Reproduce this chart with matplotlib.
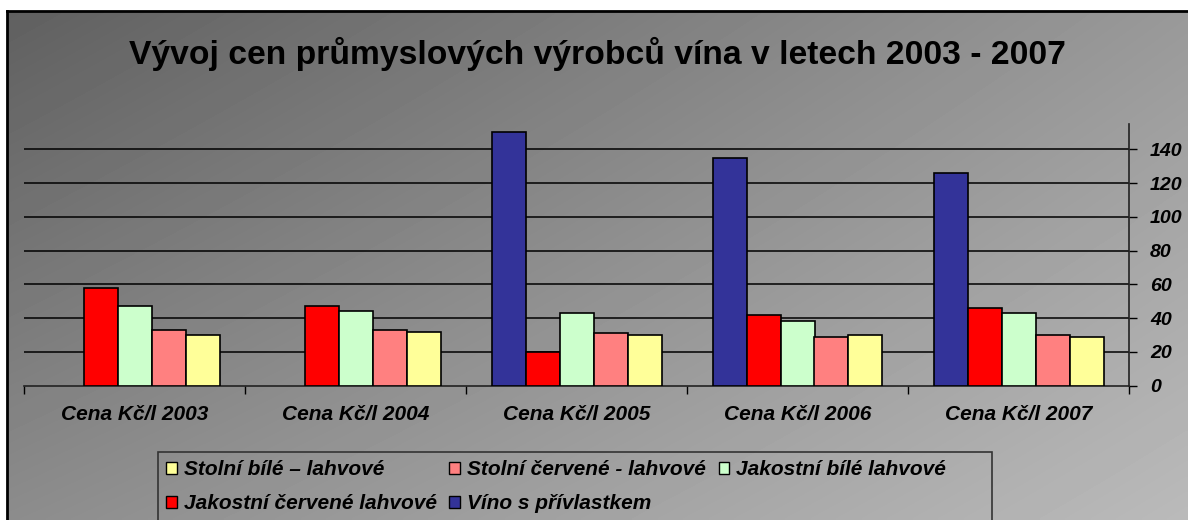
import numpy as np
import matplotlib
matplotlib.use("Agg")
import matplotlib.pyplot as plt
from matplotlib.patches import Rectangle, Patch
from matplotlib.lines import Line2D

plt.rcParams['font.family'] = ['Liberation Sans', 'DejaVu Sans']

W, H = 1188, 520

categories = ["Cena Kč/l 2003", "Cena Kč/l 2004", "Cena Kč/l 2005",
              "Cena Kč/l 2006", "Cena Kč/l 2007"]

# series in bar order (left to right inside a group)
series_names = ["Víno s přívlastkem", "Jakostní červené lahvové",
                "Jakostní bílé lahvové", "Stolní červené - lahvové",
                "Stolní bílé – lahvové"]
vino_privlastek = [np.nan, np.nan, 150, 135, 126]
jakostni_cervene = [58, 47, 20, 42, 46]
jakostni_bile = [47, 44, 43, 38.5, 43]
stolni_cervene = [33, 33, 31, 29, 30]
stolni_bile = [30, 32, 30, 30, 29]
series_values = [vino_privlastek, jakostni_cervene, jakostni_bile,
                 stolni_cervene, stolni_bile]
series_colors = ["#333399", "#FF0000", "#CCFFCC", "#FF8080", "#FFFF99"]

y_ticks = [0, 20, 40, 60, 80, 100, 120, 140]


def px(x0, y0, x1, y1):
    # pixel box (top-left origin) -> figure fraction rect
    return [x0 / W, 1 - y1 / H, (x1 - x0) / W, (y1 - y0) / H]


fig = plt.figure(figsize=(W / 100, H / 100), dpi=100)
fig.patch.set_facecolor("white")

# Gradient background of the chart area
bg = fig.add_axes(px(7, 11, W, H), zorder=-5)
gx, gy = np.meshgrid(np.linspace(0, 1, 300), np.linspace(0, 1, 150))
tl, tr, bl, br = 96, 153, 140, 186
grad = (tl * (1 - gx) * (1 - gy) + tr * gx * (1 - gy)
        + bl * (1 - gx) * gy + br * gx * gy) / 255.0
bg.imshow(grad, cmap="gray", vmin=0, vmax=1, aspect="auto",
          extent=[0, 1, 1, 0], interpolation="bilinear")
bg.set_axis_off()

# outer border (top and left)
fig.add_artist(Line2D([7 / W, 7 / W], [0, 1 - 11 / H], color="black",
                      lw=2, transform=fig.transFigure))
fig.add_artist(Line2D([7 / W, 1], [1 - 11 / H, 1 - 11 / H], color="black",
                      lw=2, transform=fig.transFigure))

# Plot area
ax = fig.add_axes(px(24, 124, 1129, 385.7))
ax.patch.set_alpha(0)

n_cat = len(categories)
n_ser = len(series_values)
bar_w = 1.0 / 6.5
x = np.arange(n_cat)
for i, (vals, col) in enumerate(zip(series_values, series_colors)):
    offs = (i - (n_ser - 1) / 2) * bar_w
    ax.bar(x + offs, vals, width=bar_w, color=col, edgecolor="black",
           linewidth=1.2, zorder=3)

ax.set_xlim(-0.5, n_cat - 0.5)
ax.set_ylim(0, 155)

# gridlines
for v in y_ticks[1:]:
    ax.axhline(v, color="black", lw=1.1, zorder=1)

ax.yaxis.tick_right()
ax.set_yticks(y_ticks)
ax.set_yticklabels([str(v) for v in y_ticks], fontsize=14,
                   fontweight="bold", fontstyle="italic")
ax.tick_params(axis="y", direction="out", length=6, width=1, pad=9,
               colors="black")

ax.set_xticks(np.arange(-0.5, n_cat, 1.0))
ax.set_xticklabels([])
ax.set_xticks(x, minor=True)
ax.set_xticklabels(categories, minor=True, fontsize=15,
                   fontweight="bold", fontstyle="italic")
ax.tick_params(axis="x", which="major", direction="out", length=6, width=1)
ax.tick_params(axis="x", which="minor", length=0, pad=14)

for s in ["left", "top"]:
    ax.spines[s].set_visible(False)
ax.spines["right"].set_color("#222222")
ax.spines["bottom"].set_color("#222222")
ax.spines["right"].set_linewidth(1.2)
ax.spines["bottom"].set_linewidth(1.2)

# Title
fig.text(597 / W, 1 - 54 / H,
         "Vývoj cen průmyslových výrobců vína v letech 2003 - 2007",
         ha="center", va="center", fontsize=24.2, fontweight="bold")

# Legend (row order: Stolní bílé, Stolní červené, Jakostní bílé / Jakostní červené, Víno)
order = [4, 1, 3, 0, 2]
handles = [Patch(facecolor=series_colors[k], edgecolor="black", linewidth=1)
           for k in order]
labels = [series_names[k] for k in order]
fig.add_artist(Rectangle((158 / W, 1 - 540 / H), (992 - 158) / W, 88 / H,
                         transform=fig.transFigure, fill=False,
                         edgecolor="#333333", lw=1.2))
leg = fig.legend(handles, labels, ncol=3, loc="upper left",
                 bbox_to_anchor=(160 / W, 1 - 454 / H), frameon=False,
                 prop={"size": 15, "weight": "bold", "style": "italic"},
                 handlelength=0.5, handleheight=0.5, handletextpad=0.35,
                 columnspacing=0.6, labelspacing=0.72, borderpad=0.3,
                 borderaxespad=0)

fig.savefig("out.png", dpi=100)
